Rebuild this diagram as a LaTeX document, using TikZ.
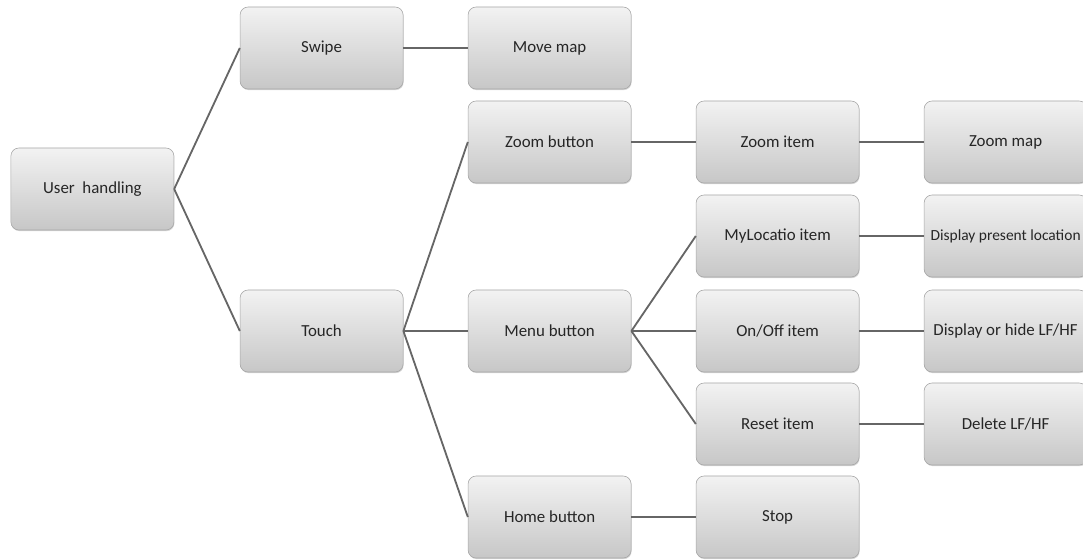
\documentclass[tikz,border=0pt]{standalone}
\usepackage{fontspec}
\setmainfont{Carlito}
\usepackage{xcolor}
\usepackage{tikz}
\usetikzlibrary{shadows}

\begin{document}
\begin{tikzpicture}[
  box/.style={draw=black!35,rounded corners=0.2cm,top color=black!5,bottom color=black!22,
    drop shadow={opacity=0.35,shadow xshift=0.4pt,shadow yshift=-0.8pt},
    minimum width=4.075cm,minimum height=2.05cm,inner sep=1pt,
    font=\fontsize{12}{14}\selectfont,text=black!85},
  link/.style={draw=black!60,line width=1.3pt}]
  \clip (0,0) rectangle (27.075,14);
  \node[box] (user) at (2.31,9.275) {User\ \ handling};
  \node[box] (swipe) at (8.04,12.8) {Swipe};
  \node[box] (touch) at (8.04,5.725) {Touch};
  \node[box] (movemap) at (13.74,12.8) {Move map};
  \node[box] (zoombtn) at (13.74,10.45) {Zoom button};
  \node[box] (menubtn) at (13.74,5.725) {Menu button};
  \node[box] (homebtn) at (13.74,1.075) {Home button};
  \node[box] (zoomitem) at (19.44,10.45) {Zoom item};
  \node[box] (myloc) at (19.44,8.1) {MyLocatio item};
  \node[box] (onoff) at (19.44,5.725) {On/Off item};
  \node[box] (reset) at (19.44,3.4) {Reset item};
  \node[box] (stop) at (19.44,1.075) {Stop};
  \node[box] (zoommap) at (25.14,10.45) {Zoom map};
  \node[box,font=\fontsize{11}{13}\selectfont] (disploc) at (25.14,8.1) {Display present location};
  \node[box] (disphide) at (25.14,5.725) {Display or hide LF/HF};
  \node[box] (delete) at (25.14,3.4) {Delete LF/HF};
  \draw[link] (user.east) -- (swipe.west);
  \draw[link] (user.east) -- (touch.west);
  \draw[link] (swipe.east) -- (movemap.west);
  \draw[link] (touch.east) -- (zoombtn.west);
  \draw[link] (touch.east) -- (menubtn.west);
  \draw[link] (touch.east) -- (homebtn.west);
  \draw[link] (zoombtn.east) -- (zoomitem.west);
  \draw[link] (menubtn.east) -- (myloc.west);
  \draw[link] (menubtn.east) -- (onoff.west);
  \draw[link] (menubtn.east) -- (reset.west);
  \draw[link] (homebtn.east) -- (stop.west);
  \draw[link] (zoomitem.east) -- (zoommap.west);
  \draw[link] (myloc.east) -- (disploc.west);
  \draw[link] (onoff.east) -- (disphide.west);
  \draw[link] (reset.east) -- (delete.west);
\end{tikzpicture}
\end{document}
